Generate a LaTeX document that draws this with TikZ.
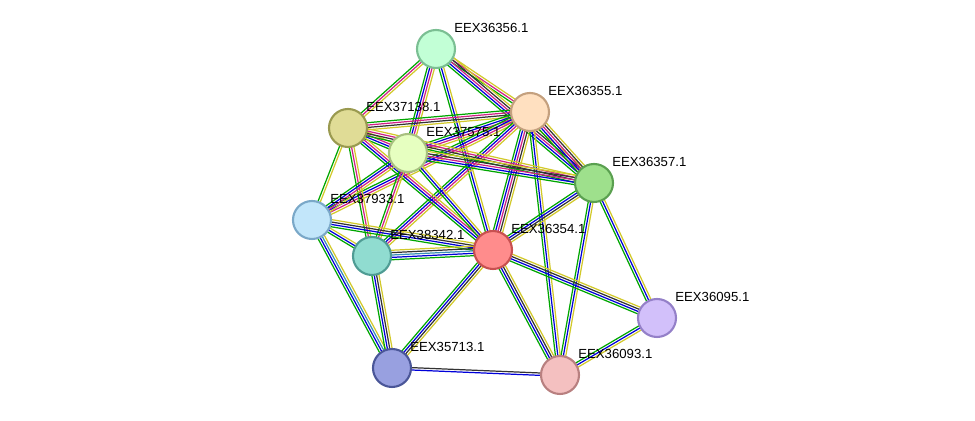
\documentclass[tikz,border=0pt]{standalone}
\usepackage{fontspec}
\setmainfont{Liberation Sans}
\usetikzlibrary{calc}

\tikzset{
  eg/.style={draw=green!65!black, line width=0.7pt},
  eb/.style={draw=blue!85!black, line width=0.7pt},
  em/.style={draw=magenta!85!black, line width=0.7pt},
  ek/.style={draw=black!80, line width=0.7pt},
  ey/.style={draw=yellow!80!black, line width=0.7pt},
  ec/.style={draw=cyan!70!black, line width=0.7pt},
  prot/.style={circle, minimum size=0.76cm, line width=1.2pt, inner sep=0pt},
  lab/.style={anchor=south west, font=\fontsize{7.5}{8}\selectfont, inner sep=0pt}
}
\definecolor{f356}{HTML}{C2FFD6}\definecolor{d356}{HTML}{7BBF93}
\definecolor{f355}{HTML}{FFE0C0}\definecolor{d355}{HTML}{C4A07E}
\definecolor{f138}{HTML}{E0DC96}\definecolor{d138}{HTML}{9A9A50}
\definecolor{f575}{HTML}{E6FFC0}\definecolor{d575}{HTML}{A8C080}
\definecolor{f357}{HTML}{9EE08C}\definecolor{d357}{HTML}{5AA050}
\definecolor{f933}{HTML}{C2E6FA}\definecolor{d933}{HTML}{7AA8C8}
\definecolor{f342}{HTML}{90DCD0}\definecolor{d342}{HTML}{4F9C94}
\definecolor{f354}{HTML}{FF8C8C}\definecolor{d354}{HTML}{C85050}
\definecolor{f095}{HTML}{D2C0FA}\definecolor{d095}{HTML}{9480C8}
\definecolor{f713}{HTML}{98A0E0}\definecolor{d713}{HTML}{4A5698}
\definecolor{f093}{HTML}{F4C0C0}\definecolor{d093}{HTML}{B88080}

% bundle of parallel evidence lines between two proteins
\newcommand\lnk[3]{%
  \foreach \s/\o in {#3}
    \draw[e\s] ($(#1)!\o*1.35pt!90:(#2)$) -- ($(#2)!\o*1.35pt!-90:(#1)$);}

\begin{document}
\begin{tikzpicture}[x=0.02cm,y=-0.02cm]
\useasboundingbox (0,0) rectangle (975,421);
\coordinate (p356) at (436,49);
\coordinate (p355) at (530,112);
\coordinate (p138) at (348,128);
\coordinate (p575) at (408,153);
\coordinate (p357) at (594,183);
\coordinate (p933) at (312,220);
\coordinate (p342) at (372,256);
\coordinate (p354) at (493,250);
\coordinate (p095) at (657,318);
\coordinate (p713) at (392,368);
\coordinate (p093) at (560,375);

% edges
\lnk{p356}{p138}{g/-1,m/0,y/1}
\lnk{p356}{p575}{g/-1.5,b/-0.5,m/0.5,y/1.5}
\lnk{p356}{p355}{g/-1,m/0,y/1}
\lnk{p356}{p357}{g/-2,b/-1,m/0,k/1,y/2}
\lnk{p356}{p354}{g/-1,b/0,y/1}
\lnk{p355}{p138}{g/-1.5,m/-0.5,k/0.5,y/1.5}
\lnk{p355}{p575}{g/-1.5,b/-0.5,m/0.5,y/1.5}
\lnk{p355}{p357}{g/-2,b/-1,m/0,k/1,y/2}
\lnk{p355}{p354}{g/-2,b/-1,m/0,k/1,y/2}
\lnk{p355}{p933}{g/-1.5,b/-0.5,m/0.5,y/1.5}
\lnk{p355}{p342}{g/-1.5,b/-0.5,m/0.5,y/1.5}
\lnk{p355}{p093}{g/-1,b/0,y/1}
\lnk{p138}{p575}{g/-1.5,b/-0.5,m/0.5,y/1.5}
\lnk{p138}{p357}{g/-1.5,k/-0.5,m/0.5,y/1.5}
\lnk{p138}{p933}{g/-0.5,y/0.5}
\lnk{p138}{p342}{g/-1,m/0,y/1}
\lnk{p138}{p354}{g/-1.5,b/-0.5,m/0.5,y/1.5}
\lnk{p575}{p357}{g/-2,b/-1,m/0,k/1,y/2}
\lnk{p575}{p933}{g/-1.5,b/-0.5,m/0.5,y/1.5}
\lnk{p575}{p342}{g/-1,m/0,y/1}
\lnk{p575}{p354}{g/-1,b/0,y/1}
\lnk{p357}{p354}{g/-1.5,b/-0.5,k/0.5,y/1.5}
\lnk{p357}{p095}{g/-1,b/0,y/1}
\lnk{p357}{p093}{g/-1,b/0,y/1}
\lnk{p933}{p342}{g/-1,b/0,y/1}
\lnk{p933}{p354}{g/-1.5,b/-0.5,k/0.5,y/1.5}
\lnk{p933}{p713}{g/-1.5,b/-0.5,c/0.5,y/1.5}
\lnk{p342}{p354}{g/-2,b/-1,c/0,k/1,y/2}
\lnk{p342}{p713}{g/-1.5,b/-0.5,k/0.5,y/1.5}
\lnk{p354}{p095}{g/-1.5,b/-0.5,k/0.5,y/1.5}
\lnk{p354}{p093}{g/-1.5,b/-0.5,k/0.5,y/1.5}
\lnk{p354}{p713}{g/-1.5,b/-0.5,k/0.5,y/1.5}
\lnk{p095}{p093}{g/-1,b/0,y/1}
\lnk{p713}{p093}{b/-0.5,k/0.5}

% proteins
\foreach \n/\t in {356/EEX36356.1,355/EEX36355.1,138/EEX37138.1,575/EEX37575.1,
                   357/EEX36357.1,933/EEX37933.1,342/EEX38342.1,354/EEX36354.1,
                   095/EEX36095.1,713/EEX35713.1,093/EEX36093.1}{
  \node[prot, fill=f\n, draw=d\n] (n\n) at (p\n) {};
  \node[lab] (t\n) at ($(p\n)+(18,-16)$) {\t};
}
\end{tikzpicture}
\end{document}
